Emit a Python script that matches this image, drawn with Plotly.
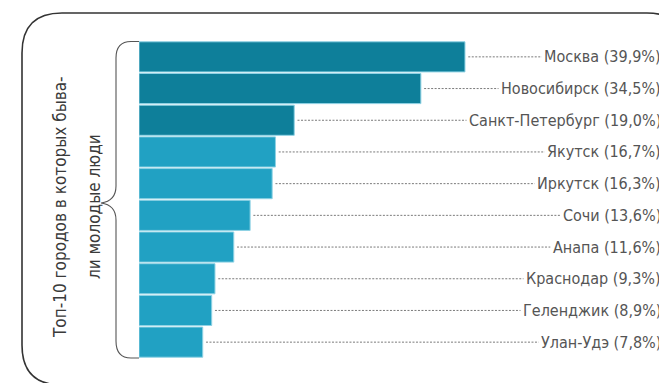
import plotly.graph_objects as go

cities = ["Москва", "Новосибирск", "Санкт-Петербург", "Якутск", "Иркутск",
          "Сочи", "Анапа", "Краснодар", "Геленджик", "Улан-Удэ"]
values = [39.9, 34.5, 19.0, 16.7, 16.3, 13.6, 11.6, 9.3, 8.9, 7.8]
highlight = [True, True, True, False, False, False, False, False, False, False]
title_lines = ["Топ-10 городов в которых быва-", "ли молодые люди"]

# page body has an 8px margin; work in page pixels and convert
OFF = 8
W, H = 667 - OFF, 383 - OFF
ML, MR, MT, MB = 139 - OFF, 0, 41 - OFF, 383 - 358
PW, PH = W - ML - MR, H - MT - MB
PX_PER_UNIT = 8.17
XMAX = PW / PX_PER_UNIT

FONT = "Liberation Sans Narrow, DejaVu Sans Condensed, Roboto, sans-serif"
DARK = "#0e7f9a"
LIGHT = "#21a1c3"


def px(x):
    return (x - OFF - ML) / PW


def py(y):
    return 1 - (y - OFF - MT) / PH


def path(cmds):
    out = []
    for c in cmds:
        if isinstance(c, str):
            out.append(c)
        else:
            out.append(f"{px(c[0]):.5f},{py(c[1]):.5f}")
    return " ".join(out)


def fmt(v):
    return f"{v:.1f}".replace(".", ",")


fig = go.Figure()
fig.add_trace(go.Bar(
    x=values, y=cities, orientation="h",
    marker=dict(color=[DARK if h else LIGHT for h in highlight],
                line=dict(color="#8fd2e4", width=1)),
    hoverinfo="skip",
))

label_end = XMAX * px(650)
for c, v in zip(cities, values):
    fig.add_trace(go.Scatter(
        x=[v + 0.4, label_end], y=[c, c], mode="lines",
        line=dict(color="#7a7a7a", width=1, dash="2px,1.5px"),
        hoverinfo="skip", showlegend=False,
    ))
    fig.add_annotation(
        x=px(664), xref="paper", y=c, yref="y", xanchor="right",
        text=f"{c} ({fmt(v)}%)", showarrow=False, bgcolor="white",
        borderpad=2, font=dict(family=FONT, size=16, color="#555555"),
    )

for line, cx in zip(title_lines, [48, 82]):
    fig.add_annotation(
        x=px(cx), y=py(207), xref="paper", yref="paper",
        text=line, textangle=-90, showarrow=False,
        font=dict(family=FONT, size=17, color="#3a3a3a"),
    )

frame = path(["M", (62, 13), "L", (647, 13), "Q", (687, 13), (687, 53),
              "L", (687, 345), "Q", (687, 385), (647, 385),
              "L", (62, 385), "Q", (22, 385), (22, 345),
              "L", (22, 53), "Q", (22, 13), (62, 13), "Z"])
brace = path(["M", (139, 41.5), "L", (131, 41.5), "Q", (116, 41.5), (116, 58),
              "L", (116, 186), "Q", (116, 201), (101, 203),
              "Q", (116, 205), (116, 220), "L", (116, 341),
              "Q", (116, 358), (131, 358), "L", (139, 358)])

fig.update_layout(
    width=W, height=H,
    margin=dict(l=ML, r=MR, t=MT, b=MB),
    paper_bgcolor="white", plot_bgcolor="white",
    showlegend=False, bargap=0.05,
    xaxis=dict(range=[0, XMAX], visible=False, fixedrange=True),
    yaxis=dict(autorange="reversed", visible=False, fixedrange=True),
    shapes=[
        dict(type="path", path=frame, xref="paper", yref="paper",
             line=dict(color="#333333", width=1.6), layer="above"),
        dict(type="path", path=brace, xref="paper", yref="paper",
             line=dict(color="#555555", width=1.1), layer="above"),
    ],
)

fig.write_html("out.html")
